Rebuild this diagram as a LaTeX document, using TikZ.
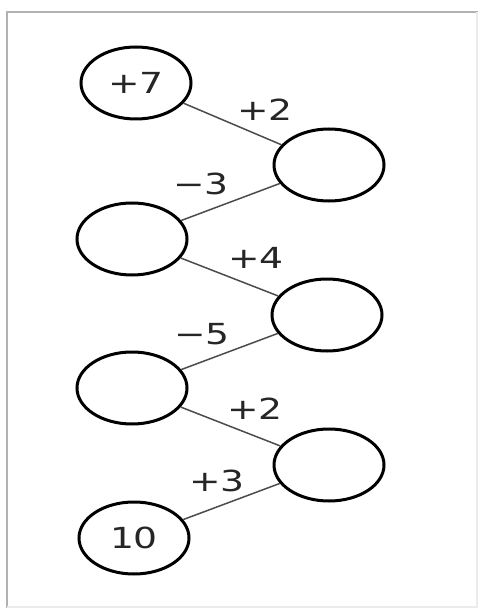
\documentclass[tikz,border=0pt]{standalone}
\usepackage{fontspec}
\setmainfont{DejaVu Sans}
\usepackage{graphicx}
\usetikzlibrary{shapes.geometric}
\newcommand{\wtxt}[1]{\scalebox{1.3}[1]{#1}}
\tikzset{
  x=1pt, y=-1pt,
  bubble/.style={ellipse, draw=black, line width=3pt, minimum width=110pt, minimum height=72pt, inner sep=0pt, font=\fontsize{29}{33}\selectfont, text=black!85},
  link/.style={draw=black!70, line width=1.5pt},
  lbl/.style={font=\fontsize{29}{33}\selectfont, text=black!85, inner sep=0pt},
}
\begin{document}
\begin{tikzpicture}
\useasboundingbox (0,0) rectangle (479,612);
\fill[white] (0,0) rectangle (479,612);
% frame
\draw[black!30, line width=2.4pt] (7,608) -- (7,12) -- (478,12);
\draw[black!8, line width=1.5pt] (7,607) -- (477,607) -- (477,12);
% nodes
\node[bubble] (n1) at (136,83) {\wtxt{+7}};
\node[bubble] (n2) at (329,165) {};
\node[bubble] (n3) at (132,239) {};
\node[bubble] (n4) at (327,315) {};
\node[bubble] (n5) at (132,388) {};
\node[bubble] (n6) at (329,465) {};
\node[bubble] (n7) at (134,538) {\wtxt{10}};
% connectors
\path[link] (n1) -- (n2);
\path[link] (n2) -- (n3);
\path[link] (n3) -- (n4);
\path[link] (n4) -- (n5);
\path[link] (n5) -- (n6);
\path[link] (n6) -- (n7);
% labels
\node[lbl] (l1) at (265,110) {\wtxt{+2}};
\node[lbl] (l2) at (201,184) {\wtxt{−3}};
\node[lbl] (l3) at (256,258) {\wtxt{+4}};
\node[lbl] (l4) at (202,334) {\wtxt{−5}};
\node[lbl] (l5) at (255,409) {\wtxt{+2}};
\node[lbl] (l6) at (217,481) {\wtxt{+3}};
\end{tikzpicture}
\end{document}
